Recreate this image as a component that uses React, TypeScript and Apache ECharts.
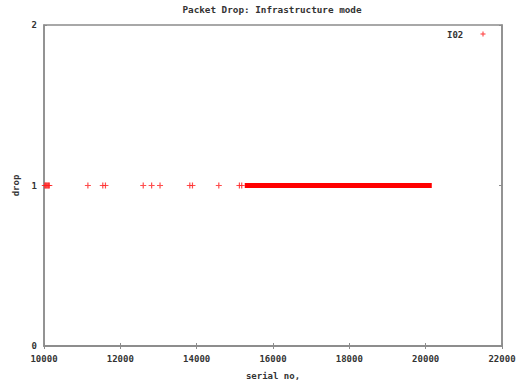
import React, { useEffect, useRef } from "react";
import * as echarts from "echarts";

const titleText = "Packet Drop: Infrastructure mode";
const xName = "serial no,";
const yName = "drop";
const seriesName = "I02";
const xTicks = [10000, 12000, 14000, 16000, 18000, 20000, 22000];
const yTicks = [0, 1, 2];
// serials where a drop (value 1) was recorded, isolated points
const dropSerials = [10020, 10040, 10060, 10080, 10100, 10120, 10140, 11150, 11540, 11610, 12600, 12820, 13040, 13820, 13890, 14580, 15120, 15180];
const dropValues = [1, 1, 1, 1, 1, 1, 1, 1, 1, 1, 1, 1, 1, 1, 1, 1, 1, 1];
// continuous run of drops (every serial in between)
const denseRun = [15260, 20160];
const denseValue = 1;

const PLUS = "path://M4,0H6V4H10V6H6V10H4V6H0V4H4Z";
const FONT = "DejaVu Sans Mono";

export default function App() {
  const ref = useRef<HTMLDivElement>(null);
  useEffect(() => {
    if (!ref.current) return;
    const chart = echarts.init(ref.current, null, { renderer: "svg" });
    const axisColor = "#8c8c8c";
    const labelStyle = { fontFamily: FONT, fontSize: 9, fontWeight: "bold" as const, color: "#333" };
    const tickLabel = { ...labelStyle, margin: 8, formatter: (v: number) => String(v) };
    chart.setOption({
      animation: false,
      backgroundColor: "#fff",
      title: {
        text: titleText,
        left: 272,
        textAlign: "center",
        top: 5,
        padding: 0,
        textStyle: { ...labelStyle, fontSize: 9.3 },
      },
      grid: { left: 44, right: 26, top: 25, bottom: 37, show: true, borderColor: axisColor, borderWidth: 1.5 },
      xAxis: [
        {
          type: "value",
          min: xTicks[0],
          max: xTicks[xTicks.length - 1],
          interval: 2000,
          name: xName,
          nameLocation: "middle",
          nameGap: 25,
          nameTextStyle: labelStyle,
          axisLine: { show: true, lineStyle: { color: axisColor, width: 1.5 } },
          axisTick: { show: true, inside: true, length: 3, lineStyle: { color: axisColor } },
          axisLabel: tickLabel,
          splitLine: { show: false },
        },
        {
          type: "value",
          position: "top",
          min: xTicks[0],
          max: xTicks[xTicks.length - 1],
          interval: 2000,
          axisLine: { show: true, lineStyle: { color: axisColor, width: 1.5 } },
          axisTick: { show: true, inside: true, length: 3, lineStyle: { color: axisColor } },
          axisLabel: { show: false },
          splitLine: { show: false },
        },
      ],
      yAxis: [
        {
          type: "value",
          min: yTicks[0],
          max: yTicks[yTicks.length - 1],
          interval: 1,
          name: yName,
          nameLocation: "middle",
          nameGap: 24,
          nameRotate: 90,
          nameTextStyle: labelStyle,
          axisLine: { show: true, lineStyle: { color: axisColor, width: 1.5 } },
          axisTick: { show: true, inside: true, length: 3, lineStyle: { color: axisColor } },
          axisLabel: { ...tickLabel, margin: 7 },
          splitLine: { show: false },
        },
        {
          type: "value",
          position: "right",
          min: yTicks[0],
          max: yTicks[yTicks.length - 1],
          interval: 1,
          axisLine: { show: true, lineStyle: { color: axisColor, width: 1.5 } },
          axisTick: { show: true, inside: true, length: 3, lineStyle: { color: axisColor } },
          axisLabel: { show: false },
          splitLine: { show: false },
        },
      ],
      graphic: [
        { type: "text", left: 447, top: 30, style: { text: seriesName, font: `bold 9px ${FONT}`, fill: "#333" } },
        { type: "line", shape: { x1: 480.5, y1: 34, x2: 485.5, y2: 34 }, style: { stroke: "#ff5050", lineWidth: 1.2 } },
        { type: "line", shape: { x1: 483, y1: 31.5, x2: 483, y2: 36.5 }, style: { stroke: "#ff5050", lineWidth: 1.2 } },
      ],
      series: [
        {
          name: seriesName,
          type: "scatter",
          symbol: PLUS,
          symbolSize: 6,
          itemStyle: { color: "#ff2020" },
          data: dropSerials.map((s, i) => [s, dropValues[i]]),
        },
        {
          name: seriesName,
          type: "line",
          showSymbol: false,
          symbol: "none",
          itemStyle: { color: "#ff0000" },
          lineStyle: { color: "#ff0000", width: 5, cap: "butt" },
          data: denseRun.map((s) => [s, denseValue]),
        },
      ],
    });
    return () => chart.dispose();
  }, []);
  return <div ref={ref} style={{ position: "fixed", left: 0, top: 0, width: 528, height: 385 }} />;
}
